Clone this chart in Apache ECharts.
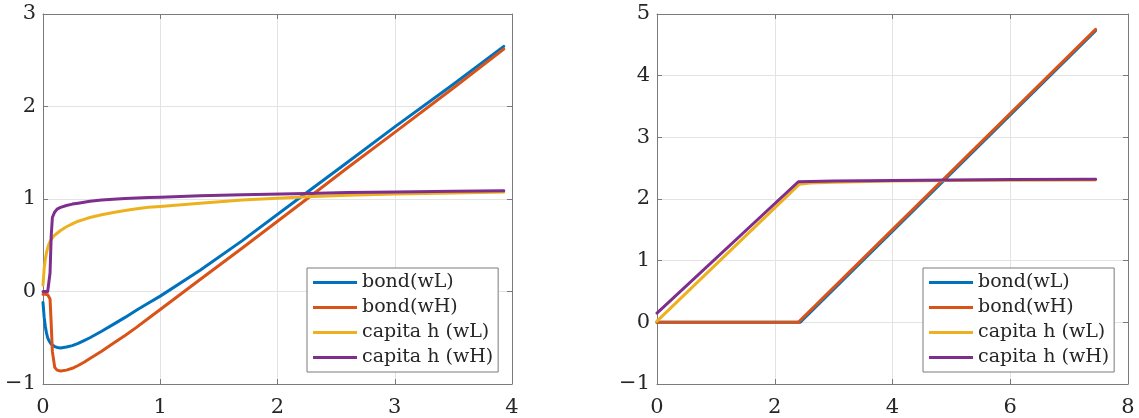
<!DOCTYPE html>
<html>
<head>
<meta charset="utf-8">
<title>bond and capita h</title>
<script src="https://cdn.jsdelivr.net/npm/echarts@6/dist/echarts.min.js"></script>
<style>
  html, body { margin: 0; padding: 0; background: #ffffff; }
  #chart { width: 1139px; height: 418px; }
</style>
</head>
<body>
<div id="chart"></div>
<script>
// ---- Series names ----
const seriesNames = ['bond(wL)', 'bond(wH)', 'capita h (wL)', 'capita h (wH)'];

// ---- Left panel: shared x grid (denser near zero where the curves bend) ----
const leftX = [0, 0.01, 0.02, 0.03, 0.04, 0.05, 0.06, 0.07, 0.08, 0.1, 0.12, 0.15,
               0.2, 0.25, 0.3, 0.35, 0.4, 0.5, 0.6, 0.7, 0.8, 0.9, 1.0,
               1.34, 1.7, 2.25, 2.6, 3.0, 3.5, 3.93];
const leftBondL = [-0.12, -0.28, -0.38, -0.45, -0.50, -0.53, -0.55, -0.57, -0.58, -0.595, -0.605, -0.61,
                   -0.60, -0.585, -0.56, -0.53, -0.50, -0.43, -0.355, -0.28, -0.20, -0.125, -0.05,
                   0.23, 0.55, 1.07, 1.40, 1.78, 2.24, 2.65];
const leftBondH = [-0.03, -0.03, -0.03, -0.03, -0.035, -0.04, -0.08, -0.35, -0.65, -0.82, -0.85, -0.86,
                   -0.85, -0.83, -0.80, -0.765, -0.725, -0.645, -0.56, -0.475, -0.385, -0.29, -0.195,
                   0.13, 0.47, 1.00, 1.34, 1.72, 2.20, 2.62];
const leftCapL  = [0.07, 0.25, 0.35, 0.42, 0.47, 0.51, 0.54, 0.56, 0.58, 0.61, 0.63, 0.66,
                   0.70, 0.73, 0.76, 0.78, 0.80, 0.83, 0.855, 0.875, 0.895, 0.91, 0.92,
                   0.955, 0.99, 1.025, 1.04, 1.055, 1.065, 1.075];
const leftCapH  = [0.0, 0.0, 0.0, 0.0, 0.0, 0.02, 0.2, 0.6, 0.80, 0.86, 0.89, 0.91,
                   0.93, 0.945, 0.955, 0.965, 0.975, 0.99, 0.998, 1.005, 1.01, 1.015, 1.02,
                   1.035, 1.045, 1.06, 1.07, 1.075, 1.085, 1.09];

// ---- Right panel: each series has its own breakpoints ----
const rightBondLX = [0, 2.43, 7.45];
const rightBondLY = [0, 0, 4.73];
const rightBondHX = [0, 2.40, 7.45];
const rightBondHY = [0, 0, 4.75];
const rightCapLX = [0, 2.42, 2.6, 3, 4, 5, 6, 7.45];
const rightCapLY = [0.02, 2.24, 2.26, 2.27, 2.29, 2.30, 2.305, 2.31];
const rightCapHX = [0, 2.40, 3, 4, 5, 6, 7.45];
const rightCapHY = [0.15, 2.28, 2.29, 2.30, 2.31, 2.315, 2.32];

// ---- Axis ranges ----
const leftXTicks = { min: 0, max: 4, interval: 1 };
const leftYTicks = { min: -1, max: 3, interval: 1 };
const rightXTicks = { min: 0, max: 8, interval: 2 };
const rightYTicks = { min: -1, max: 5, interval: 1 };

const colors = ['#0072BD', '#D95319', '#EDB120', '#7E2F8E'];
const FONT = 'DejaVu Serif';
const TEXT = '#262626';
const AXIS = '#7a7a7a';
const GRIDLINE = '#e3e3e3';

function pairs(xs, ys) { return xs.map((x, i) => [x, ys[i]]); }
function fmt(v) { return String(v).replace('-', '\u2212'); }

function mainAxis(grid, pos, range) {
  return {
    type: 'value', gridIndex: grid, position: pos,
    min: range.min, max: range.max, interval: range.interval,
    axisLine: { show: true, onZero: false, lineStyle: { color: AXIS, width: 1 } },
    axisTick: { show: true, inside: true, length: 5, lineStyle: { color: AXIS } },
    axisLabel: { show: true, margin: (pos === 'bottom') ? 13 : 7, fontFamily: FONT, fontSize: 21, color: TEXT, formatter: fmt },
    splitLine: { show: true, lineStyle: { color: GRIDLINE, width: 1 } }
  };
}
function mirrorAxis(grid, pos, range) {
  return {
    type: 'value', gridIndex: grid, position: pos,
    min: range.min, max: range.max, interval: range.interval,
    axisLine: { show: true, onZero: false, lineStyle: { color: AXIS, width: 1 } },
    axisTick: { show: true, inside: true, length: 5, lineStyle: { color: AXIS } },
    axisLabel: { show: false },
    splitLine: { show: false }
  };
}

function line(name, idx, xAxisIndex, yAxisIndex, data) {
  return {
    type: 'line', name: name, xAxisIndex: xAxisIndex, yAxisIndex: yAxisIndex,
    data: data, showSymbol: false, symbol: 'none', smooth: false,
    lineStyle: { color: colors[idx], width: 3, join: 'round', cap: 'round' },
    itemStyle: { color: colors[idx] },
    z: 3 + idx
  };
}

function legendAt(left) {
  return {
    data: seriesNames, orient: 'vertical', left: left, top: 268,
    icon: 'rect', itemWidth: 44, itemHeight: 3, itemGap: 0,
    padding: [2, 5, 2, 6],
    backgroundColor: '#ffffff', borderColor: '#7a7a7a', borderWidth: 1,
    textStyle: { fontFamily: FONT, fontSize: 19, color: TEXT, lineHeight: 25, padding: [0, 0, 0, 0] },
    selectedMode: false
  };
}

const chart = echarts.init(document.getElementById('chart'), null, { renderer: 'canvas' });
chart.setOption({
  animation: false,
  backgroundColor: '#ffffff',
  color: colors,
  grid: [
    { left: 43, top: 14, width: 469, height: 370, containLabel: false },
    { left: 657, top: 14, width: 471, height: 370, containLabel: false }
  ],
  xAxis: [
    mainAxis(0, 'bottom', leftXTicks),
    mirrorAxis(0, 'top', leftXTicks),
    mainAxis(1, 'bottom', rightXTicks),
    mirrorAxis(1, 'top', rightXTicks)
  ],
  yAxis: [
    mainAxis(0, 'left', leftYTicks),
    mirrorAxis(0, 'right', leftYTicks),
    mainAxis(1, 'left', rightYTicks),
    mirrorAxis(1, 'right', rightYTicks)
  ],
  legend: [legendAt(307), legendAt(923)],
  series: [
    line(seriesNames[0], 0, 0, 0, pairs(leftX, leftBondL)),
    line(seriesNames[1], 1, 0, 0, pairs(leftX, leftBondH)),
    line(seriesNames[2], 2, 0, 0, pairs(leftX, leftCapL)),
    line(seriesNames[3], 3, 0, 0, pairs(leftX, leftCapH)),
    line(seriesNames[0], 0, 2, 2, pairs(rightBondLX, rightBondLY)),
    line(seriesNames[1], 1, 2, 2, pairs(rightBondHX, rightBondHY)),
    line(seriesNames[2], 2, 2, 2, pairs(rightCapLX, rightCapLY)),
    line(seriesNames[3], 3, 2, 2, pairs(rightCapHX, rightCapHY))
  ]
});
</script>
</body>
</html>
